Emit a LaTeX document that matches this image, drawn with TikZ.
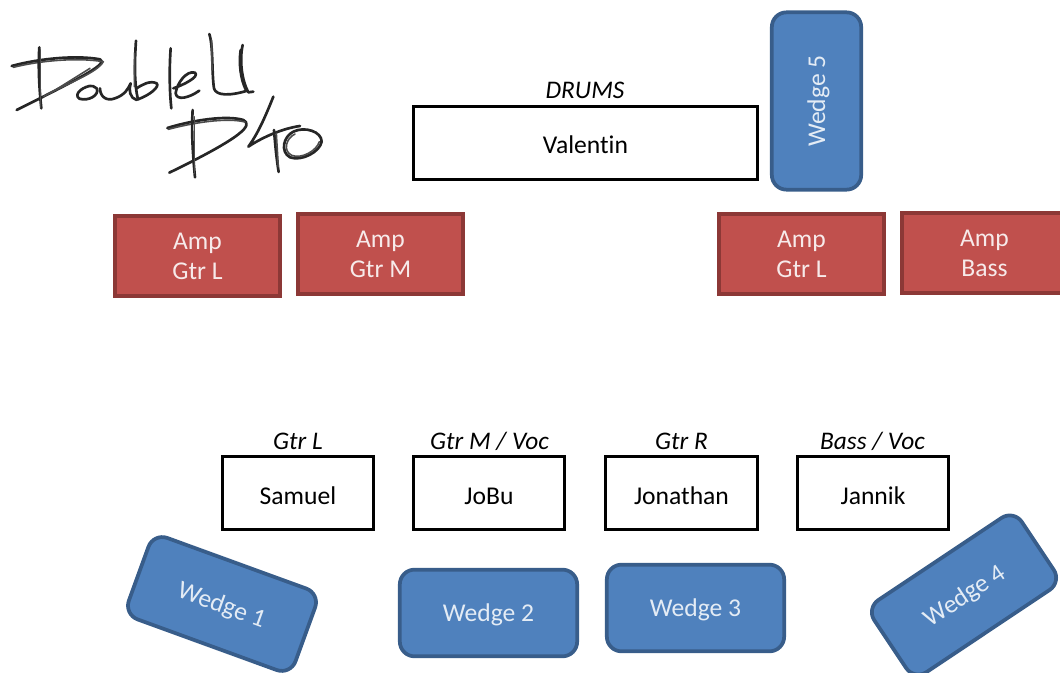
\documentclass[tikz,border=0pt]{standalone}
\usepackage{fontspec}
\setmainfont[Ligatures=NoCommon]{Carlito}
\tikzset{
  px/.style={x=0.75pt,y=-0.75pt},
  person/.style={draw=black,line width=2.3pt,fill=white,minimum width=113.5pt,minimum height=55pt,inner sep=0pt,align=center,text height=17pt,text depth=0.5pt,font=\fontsize{19.2}{21}\selectfont},
  drum/.style={person,minimum width=258pt},
  amp/.style={draw=ampline,line width=3pt,fill=ampfill,text=white!88!ampfill,minimum width=124pt,minimum height=60pt,inner sep=0pt,align=center,font=\fontsize{19.2}{22.5}\selectfont},
  wedge/.style={draw=wedgeline,line width=2.8pt,fill=wedgefill,text=white!85!wedgefill,rounded corners=11pt,minimum width=133pt,minimum height=65pt,inner sep=0pt,align=center,text height=15pt,text depth=2pt,font=\fontsize{19.2}{21}\selectfont},
  role/.style={font=\fontsize{19}{20}\selectfont\itshape,inner sep=0pt},
  ink/.style={draw=black!85,line cap=round,line join=round,line width=2pt},
  inkt/.style={draw=black!70,line cap=round,line join=round,line width=1.2pt}
}
\definecolor{ampfill}{HTML}{C0504D}
\definecolor{ampline}{HTML}{8C3836}
\definecolor{wedgefill}{HTML}{4F81BD}
\definecolor{wedgeline}{HTML}{385D8A}
\begin{document}
\begin{tikzpicture}[px]
\useasboundingbox (0,0) rectangle (1060,673);
\node[drum] (valentin) at (585.5,143) {Valentin};
\node[role] (drums) at (585,90) {DRUMS};
\node[wedge,rotate=90,minimum width=133pt,minimum height=67pt] (w5) at (816.5,101) {Wedge 5};
\node[amp] (a1) at (197.5,256) {Amp\\Gtr L};
\node[amp] (a2) at (380.5,254) {Amp\\Gtr M};
\node[amp] (a3) at (801.5,254) {Amp\\Gtr L};
\node[amp] (a4) at (984.5,253) {Amp\\Bass};
\node[person] (samuel) at (298,493) {Samuel};
\node[person] (jobu) at (489,493) {JoBu};
\node[person] (jonathan) at (681.5,493) {Jonathan};
\node[person] (jannik) at (873,493) {Jannik};
\node[role] (r1) at (298,441) {Gtr L};
\node[role] (r2) at (489.5,441) {Gtr M / Voc};
\node[role] (r3) at (681.5,441) {Gtr R};
\node[role] (r4) at (872.5,441) {Bass / Voc};
\node[wedge,rotate=-20] (w1) at (222,604) {Wedge 1};
\node[wedge] (w2) at (488.5,613) {Wedge 2};
\node[wedge] (w3) at (695.5,608) {Wedge 3};
\node[wedge,rotate=33.7] (w4) at (964,595) {Wedge 4};
% handwritten logo (zoom coordinates: 3 units per pixel, offset 20px down)
\begin{scope}[yshift=-15pt,x=0.25pt,y=-0.25pt]
  % D of Double
  \draw[ink] (35,138) .. controls (120,115) and (230,105) .. (300,118) .. controls (325,130) and (260,165) .. (50,270);
  \draw[inkt] (40,142) .. controls (120,122) and (230,112) .. (310,125) .. controls (290,160) and (200,190) .. (130,230);
  \draw[inkt] (270,145) .. controls (230,170) and (190,195) .. (150,220);
  \draw[ink] (118,82) .. controls (114,140) and (118,210) .. (124,265);
  \draw[inkt] (122,90) -- (122,262);
  % o
  \draw[ink] (268,198) .. controls (240,205) and (222,225) .. (238,236) .. controls (265,245) and (300,225) .. (290,205) .. controls (283,198) and (275,197) .. (268,198);
  % u
  \draw[ink] (300,205) .. controls (300,230) and (320,245) .. (345,235) .. controls (375,225) and (385,205) .. (392,190) .. controls (385,210) and (390,235) .. (410,240);
  % b
  \draw[ink] (408,62) .. controls (404,120) and (402,190) .. (414,238);
  \draw[inkt] (404,100) -- (403,200);
  \draw[ink] (414,238) .. controls (450,225) and (480,200) .. (470,190) .. controls (450,180) and (425,195) .. (410,205);
  % l
  \draw[ink] (512,85) .. controls (508,140) and (508,210) .. (514,265);
  % e
  \draw[ink] (520,205) .. controls (550,195) and (600,170) .. (585,158) .. controls (560,150) and (530,190) .. (527,220) .. controls (530,242) and (565,235) .. (598,212);
  % U
  \draw[ink] (628,42) .. controls (640,80) and (635,160) .. (642,205) .. controls (648,228) and (690,228) .. (742,212);
  \draw[inkt] (635,60) -- (636,150);
  \draw[ink] (728,75) .. controls (718,120) and (725,180) .. (745,217) -- (760,215);
  \draw[ink] (722,90) .. controls (716,130) and (722,180) .. (738,210);
  % D of D40
  \draw[ink] (502,324) .. controls (580,300) and (680,285) .. (730,300) .. controls (760,315) and (730,350) .. (508,458);
  \draw[inkt] (505,328) .. controls (580,308) and (680,292) .. (735,306);
  \draw[ink] (578,270) .. controls (574,330) and (578,400) .. (585,472);
  \draw[inkt] (583,290) -- (583,460);
  % 4
  \draw[ink] (820,230) .. controls (800,280) and (775,340) .. (745,380) .. controls (790,350) and (850,325) .. (900,318);
  \draw[ink] (822,330) .. controls (826,380) and (830,420) .. (836,456);
  \draw[inkt] (829,340) -- (835,440);
  % 0
  \draw[ink] (880,335) .. controls (850,350) and (840,395) .. (870,412) .. controls (905,425) and (960,395) .. (965,365) .. controls (965,335) and (915,318) .. (880,335);
  \draw[inkt] (885,342) .. controls (858,355) and (848,392) .. (875,406) .. controls (905,418) and (950,392) .. (958,365);
\end{scope}
\end{tikzpicture}
\end{document}
